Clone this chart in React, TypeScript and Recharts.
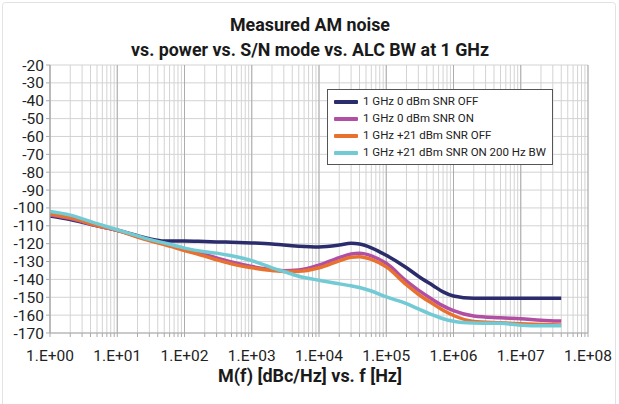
import React from 'react'
import {
  LineChart, Line, XAxis, YAxis, CartesianGrid, ReferenceLine
} from 'recharts'

// offset frequencies [Hz]
const FREQ = [1, 2, 5, 10, 20, 30, 50, 100, 200, 300, 500, 1e3, 2e3, 3e3, 5e3, 1e4, 2e4, 3e4, 4e4, 6e4, 1e5, 2e5, 3e5, 5e5, 7e5, 1e6, 2e6, 5e6, 1e7, 2e7, 4e7]

// M(f) [dBc/Hz]
const SNR_OFF_0DBM = [-104.5, -106.5, -110, -112.5, -115.5, -117.2, -118.5, -118.5, -118.8, -119, -119.2, -119.6, -120.2, -120.8, -121.4, -121.8, -120.8, -119.8, -120.2, -122.3, -126.5, -133.5, -138.2, -143.5, -147, -149.3, -150.6, -150.6, -150.6, -150.6, -150.6]
const SNR_ON_0DBM = [-104, -106, -110, -112.5, -116, -118, -120, -123, -126, -128, -130.3, -132.8, -134.5, -135.2, -134.8, -132, -127.8, -125.8, -125.4, -126.8, -131, -141, -146, -151.5, -154.8, -157.5, -160.5, -161.5, -162, -162.8, -163.3]
const SNR_OFF_21DBM = [-103.5, -105.5, -109.8, -112.5, -116.3, -118.3, -120.5, -123.8, -127, -129, -131.3, -133.5, -135, -135.6, -135.5, -133.5, -129.6, -127.6, -127.3, -128.8, -133, -143, -148.3, -153.8, -157.3, -160.2, -163.5, -164.3, -164.8, -165.2, -165.5]
const SNR_ON_21DBM_200HZ = [-102, -104, -108.8, -112.2, -115.6, -117.6, -119.6, -122.5, -124.5, -125.3, -126.8, -129.5, -133.5, -135.6, -138.2, -140.5, -142.5, -143.6, -144.5, -146.5, -149.8, -153.6, -156.5, -160, -162, -163.4, -164.4, -164.6, -165.6, -166, -166]

const SERIES = [
  { key: 'a', name: '1 GHz 0 dBm SNR OFF', color: '#2B2C6C', values: SNR_OFF_0DBM },
  { key: 'b', name: '1 GHz 0 dBm SNR ON', color: '#B04FA4', values: SNR_ON_0DBM },
  { key: 'c', name: '1 GHz +21 dBm SNR OFF', color: '#E9712F', values: SNR_OFF_21DBM },
  { key: 'd', name: '1 GHz +21 dBm SNR ON 200 Hz BW', color: '#72CAD4', values: SNR_ON_21DBM_200HZ },
]

const DECADES = [1, 10, 100, 1e3, 1e4, 1e5, 1e6, 1e7, 1e8]
const DECADE_LABELS = ['1.E+00', '1.E+01', '1.E+02', '1.E+03', '1.E+04', '1.E+05', '1.E+06', '1.E+07', '1.E+08']
const Y_TICKS = [-170, -160, -150, -140, -130, -120, -110, -100, -90, -80, -70, -60, -50, -40, -30, -20]

// log minor ticks 1..9 per decade
const X_TICKS: number[] = []
DECADES.forEach((d, i) => {
  if (i === DECADES.length - 1) { X_TICKS.push(d); return }
  for (let m = 1; m <= 9; m++) X_TICKS.push(d * m)
})

const data = FREQ.map((f, i) => {
  const row: Record<string, number> = { f }
  SERIES.forEach((s) => { row[s.key] = s.values[i] })
  return row
})

const FONT = 'Roboto, "Noto Sans", sans-serif'

const LegendBox = () => (
  <div style={{
    position: 'absolute', left: 327, top: 89, width: 226, boxSizing: 'border-box',
    border: '1px solid #555', background: '#fff', padding: '3px 6px 3px 6px',
    fontFamily: FONT, fontSize: 11.5, color: '#222', lineHeight: '17px', whiteSpace: 'nowrap',
  }}>
    {SERIES.map((s) => (
      <div key={s.key} style={{ display: 'flex', alignItems: 'center' }}>
        <span style={{ display: 'inline-block', width: 24, height: 4, background: s.color, marginRight: 5, borderRadius: 1 }} />
        <span>{s.name}</span>
      </div>
    ))}
  </div>
)

export default function App() {
  return (
    <div style={{ position: 'absolute', left: 0, top: 0, width: 619, height: 404, background: '#fff' }}>
      <svg width={619} height={404} style={{ position: 'absolute', left: 0, top: 0 }}>
        <rect x={2.5} y={2.5} width={613} height={410} rx={3} fill="none" stroke="#e2e2e2" />
        <text x={310} y={31} textAnchor="middle" fontFamily={FONT} fontWeight="bold" fontSize={19}
          textLength={160} lengthAdjust="spacingAndGlyphs" fill="#1a1a1a">Measured AM noise</text>
        <text x={310} y={56} textAnchor="middle" fontFamily={FONT} fontWeight="bold" fontSize={19}
          textLength={358} lengthAdjust="spacingAndGlyphs" fill="#1a1a1a">vs. power vs. S/N mode vs. ALC BW at 1 GHz</text>
        <text x={310} y={382} textAnchor="middle" fontFamily={FONT} fontWeight="bold" fontSize={18}
          textLength={184} lengthAdjust="spacingAndGlyphs" fill="#1a1a1a">M(f) [dBc/Hz] vs. f [Hz]</text>
      </svg>
      <div style={{ position: 'absolute', left: 0, top: 0 }}>
        <LineChart width={619} height={404} data={data} margin={{ top: 65, right: 31, left: 0, bottom: 41 }}>
          <CartesianGrid stroke="#d3d3d3" strokeWidth={1} />
          {DECADES.map((d) => (
            <ReferenceLine key={d} x={d} stroke="#adadad" strokeWidth={1} />
          ))}
          <XAxis
            dataKey="f"
            type="number"
            scale="log"
            domain={[1, 1e8]}
            ticks={X_TICKS}
            interval={0}
            allowDataOverflow
            height={30}
            tickSize={4}
            tickMargin={13}
            tickFormatter={(v) => {
              const i = DECADES.indexOf(v)
              return i >= 0 ? DECADE_LABELS[i] : ''
            }}
            stroke="#aaa"
            tick={{ fontSize: 15.5, fill: '#222', fontFamily: FONT }}
          />
          <YAxis
            type="number"
            domain={[-170, -20]}
            ticks={Y_TICKS}
            interval={0}
            width={50}
            tickSize={4}
            tickMargin={2}
            stroke="#aaa"
            tick={{ fontSize: 15.5, fill: '#222', fontFamily: FONT }}
          />
          {SERIES.map((s) => (
            <Line
              key={s.key}
              type="monotone"
              dataKey={s.key}
              name={s.name}
              stroke={s.color}
              strokeWidth={3.5}
              dot={false}
              isAnimationActive={false}
            />
          ))}
        </LineChart>
      </div>
      <LegendBox />
    </div>
  )
}
